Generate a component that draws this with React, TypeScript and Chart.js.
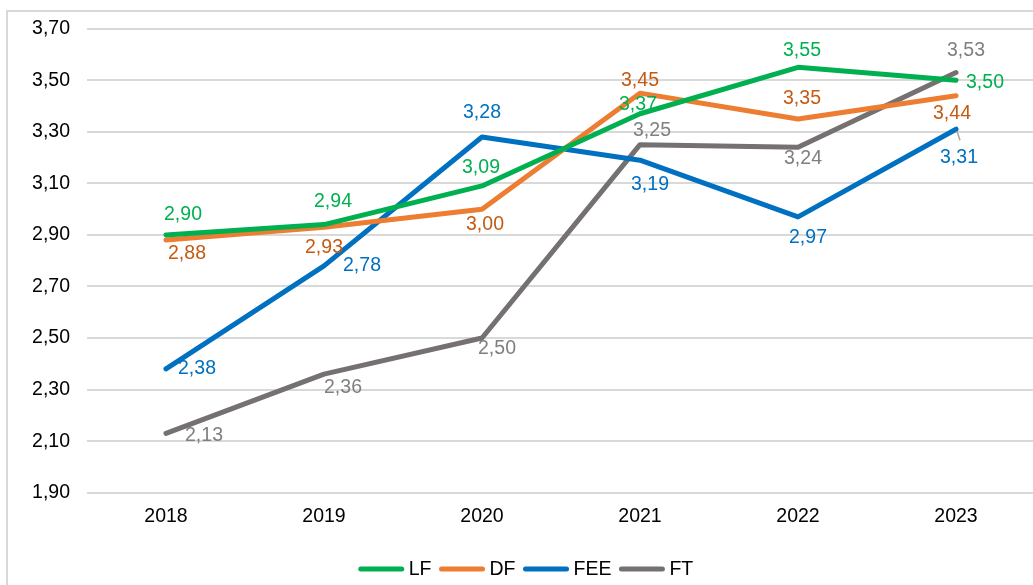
import React, { useEffect, useRef } from "react";
import { Chart, registerables } from "chart.js";

Chart.register(...registerables);

const categories = ["2018", "2019", "2020", "2021", "2022", "2023"];
const seriesNames = ["LF", "DF", "FEE", "FT"];
const lfValues = [2.9, 2.94, 3.09, 3.37, 3.55, 3.5];
const dfValues = [2.88, 2.93, 3.0, 3.45, 3.35, 3.44];
const feeValues = [2.38, 2.78, 3.28, 3.19, 2.97, 3.31];
const ftValues = [2.13, 2.36, 2.5, 3.25, 3.24, 3.53];
const yTicks = [1.9, 2.1, 2.3, 2.5, 2.7, 2.9, 3.1, 3.3, 3.5, 3.7];

// styles
const lineColors = ["#00B050", "#ED7D31", "#0070C0", "#767171"];
const labelColors = ["#00B050", "#C55A11", "#0070C0", "#7F7F7F"];
const labelOffsets: number[][][] = [
  [[17, -20], [9, -23], [-1, -18], [-2, -9], [4, -17], [29, 2]],
  [[21, 14], [0, 20], [3, 15], [0, -13], [4, -20], [-4, 18]],
  [[31, 0], [38, 0], [0, -24], [10, 24], [10, 21], [3, 28]],
  [[38, 2], [19, 14], [15, 11], [12, -14], [5, 11], [10, -22]],
];
const FONT = "'Liberation Sans', Arial, sans-serif";
const FS = 19.5;

const fmt = (v: number) => v.toFixed(2).replace(".", ",");

const labelPlugin = {
  id: "valueLabels",
  afterDatasetsDraw(chart: any) {
    const ctx = chart.ctx;
    ctx.save();
    ctx.font = `${FS}px ${FONT}`;
    ctx.textAlign = "center";
    ctx.textBaseline = "middle";
    chart.data.datasets.forEach((ds: any, di: number) => {
      const meta = chart.getDatasetMeta(di);
      meta.data.forEach((pt: any, i: number) => {
        const [dx, dy] = labelOffsets[di][i];
        ctx.fillStyle = labelColors[di];
        ctx.fillText(fmt(ds.data[i]), pt.x + dx, pt.y + dy);
      });
    });
    // small leader line for FEE 2023 label
    const m = chart.getDatasetMeta(2);
    const p = m.data[5];
    if (p) {
      ctx.strokeStyle = "#A6A6A6";
      ctx.lineWidth = 1.5;
      ctx.beginPath();
      ctx.moveTo(p.x + 1, p.y + 2);
      ctx.lineTo(p.x + 4, p.y + 11);
      ctx.stroke();
    }
    ctx.restore();
  },
};

const legendPlugin = {
  id: "customLegend",
  afterDraw(chart: any) {
    const ctx = chart.ctx;
    ctx.save();
    ctx.font = `${FS}px ${FONT}`;
    ctx.textBaseline = "middle";
    ctx.textAlign = "left";
    const lineLen = 45;
    const gapLT = 5;
    const gapItem = 8;
    const widths = seriesNames.map((n) => lineLen + gapLT + ctx.measureText(n).width);
    const total = widths.reduce((a, b) => a + b, 0) + gapItem * (seriesNames.length - 1);
    let x = 526 - total / 2;
    const y = 569;
    seriesNames.forEach((n, i) => {
      ctx.strokeStyle = lineColors[i];
      ctx.lineWidth = 5;
      ctx.lineCap = "round";
      ctx.beginPath();
      ctx.moveTo(x + 2, y);
      ctx.lineTo(x + lineLen - 2, y);
      ctx.stroke();
      ctx.fillStyle = "#000000";
      ctx.fillText(n, x + lineLen + gapLT, y + 1);
      x += widths[i] + gapItem;
    });
    ctx.restore();
  },
};

export default function App() {
  const ref = useRef<HTMLCanvasElement | null>(null);
  useEffect(() => {
    if (!ref.current) return;
    const values = [lfValues, dfValues, feeValues, ftValues];
    const chart = new Chart(ref.current, {
      type: "line",
      data: {
        labels: categories,
        datasets: seriesNames.map((name, i) => ({
          label: name,
          data: values[i],
          borderColor: lineColors[i],
          backgroundColor: lineColors[i],
          borderWidth: 5,
          pointRadius: 0,
          tension: 0,
          borderCapStyle: "round" as const,
          borderJoinStyle: "round" as const,
        })),
      },
      options: {
        responsive: false,
        animation: false,
        layout: { padding: { top: 26.5, left: 0, right: 5, bottom: 0 } },
        plugins: {
          legend: { display: false },
          tooltip: { enabled: false },
        },
        scales: {
          x: {
            offset: true,
            grid: { display: false, drawTicks: false },
            border: { display: false },
            ticks: {
              color: "#000000",
              font: { family: FONT, size: FS },
              padding: 12,
              maxRotation: 0,
            },
            afterFit(scale: any) {
              scale.height = 92.3;
            },
          },
          y: {
            min: 1.9,
            max: 3.7,
            afterBuildTicks(scale: any) {
              scale.ticks = yTicks.map((v) => ({ value: v }));
            },
            grid: { color: "#D9D9D9", lineWidth: 2, drawTicks: false },
            border: { display: false },
            ticks: {
              color: "#000000",
              font: { family: FONT, size: FS },
              padding: 17,
              callback: (v: any) => fmt(Number(v)),
            },
            afterFit(scale: any) {
              scale.width = 87;
            },
          },
        },
      },
      plugins: [labelPlugin, legendPlugin],
    });
    return () => chart.destroy();
  }, []);

  return (
    <div
      style={{
        position: "fixed",
        left: 0,
        top: 0,
        width: 1033,
        height: 585,
        overflow: "hidden",
        background: "#ffffff",
      }}
    >
      <div
        style={{
          position: "absolute",
          left: 6,
          top: 10,
          width: 1100,
          height: 700,
          borderLeft: "2px solid #D9D9D9",
          borderTop: "2px solid #D9D9D9",
        }}
      />
      <canvas
        ref={ref}
        width={1040}
        height={585}
        style={{ position: "absolute", left: 0, top: 0, width: 1040, height: 585 }}
      />
    </div>
  );
}
